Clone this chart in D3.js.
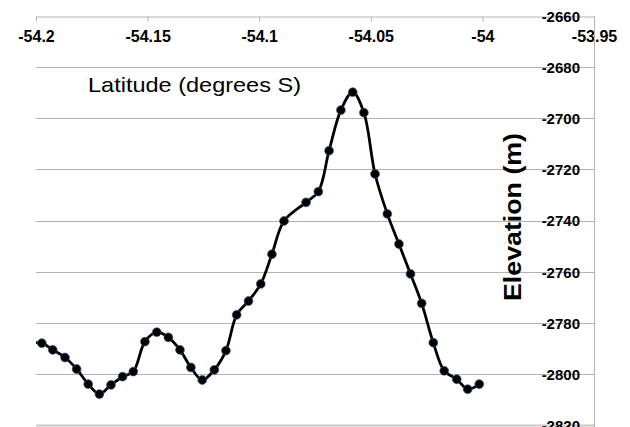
<!DOCTYPE html>
<html>
<head>
<meta charset="utf-8">
<script src="https://cdn.jsdelivr.net/npm/d3@7"></script>
<style>
  html, body { margin: 0; padding: 0; background: #fff; }
  svg { display: block; font-family: "Liberation Sans", Arial, sans-serif; }
</style>
</head>
<body>
<svg id="chart" width="630" height="427"></svg>
<script>
// Data
const latitude = [
  -54.2027, -54.1974, -54.1925, -54.1870, -54.1818, -54.1766, -54.1716, -54.1664,
  -54.1612, -54.1564, -54.1512, -54.1459, -54.1407, -54.1355, -54.1306, -54.1255,
  -54.1201, -54.1149, -54.1101, -54.1048, -54.0993, -54.0943, -54.0889, -54.0790,
  -54.0735, -54.0687, -54.0634, -54.0581, -54.0531, -54.0481, -54.0426, -54.0374,
  -54.0322, -54.0272, -54.0220, -54.0171, -54.0115, -54.0066, -54.0014
];
const elevation = [
  -2788.0, -2788.0, -2790.6, -2793.6, -2798.1, -2804.0, -2807.9, -2804.3,
  -2801.1, -2799.1, -2787.4, -2783.7, -2785.7, -2790.6, -2797.5, -2802.4,
  -2798.4, -2790.9, -2776.9, -2771.5, -2764.8, -2753.2, -2740.2, -2732.9,
  -2728.7, -2712.7, -2696.8, -2689.8, -2697.8, -2721.8, -2737.4, -2749.2,
  -2760.9, -2772.4, -2787.8, -2798.8, -2802.1, -2806.0, -2804.0
];
const xTicks = [-54.2, -54.15, -54.1, -54.05, -54, -53.95];
const yTicks = [-2660, -2680, -2700, -2720, -2740, -2760, -2780, -2800, -2820];
const xTitle = "Latitude (degrees S)";
const yTitle = "Elevation (m)";

const data = latitude.map((v, i) => ({ x: v, y: elevation[i] }));

const svg = d3.select("#chart");
const pLeft = 36, pRight = 594, pTop = 16, pBottom = 425;

const x = d3.scaleLinear().domain([-54.2, -53.95]).range([pLeft, pRight]);
const y = d3.scaleLinear().domain([-2660, -2820]).range([pTop, pBottom]);

svg.append("defs").append("clipPath").attr("id", "plot")
  .append("rect").attr("x", pLeft).attr("y", pTop).attr("width", pRight - pLeft).attr("height", 427 - pTop);

// gridlines
svg.append("g").selectAll("line").data(yTicks.filter(d => d !== -2660)).join("line")
  .attr("x1", pLeft).attr("x2", pRight)
  .attr("y1", d => Math.round(y(d)) + 0.5).attr("y2", d => Math.round(y(d)) + 0.5)
  .attr("stroke", d => d === -2820 ? "#c8c8c8" : "#b3b3b3")
  .attr("stroke-width", d => d === -2820 ? 2 : 1);

// top axis
const xAxis = d3.axisBottom(x).tickValues(xTicks).tickSize(5).tickSizeOuter(0)
  .tickFormat(d => String(d));
const gx = svg.append("g").attr("transform", `translate(0,${pTop + 0.5})`).call(xAxis);
gx.select(".domain").attr("stroke", "#b3b3b3");
gx.selectAll(".tick line").attr("stroke", "#b3b3b3");
gx.selectAll(".tick text")
  .attr("y", 25).attr("dy", 0)
  .attr("fill", "#000").attr("font-size", 16).attr("font-weight", "bold")
  .attr("font-family", "Liberation Sans, Arial, sans-serif");

// right axis line
svg.append("line").attr("x1", pRight + 0.5).attr("x2", pRight + 0.5)
  .attr("y1", pTop).attr("y2", 427).attr("stroke", "#b3b3b3");

// y labels
const yAxis = d3.axisLeft(y).tickValues(yTicks).tickSize(0).tickFormat(d => String(d));
const gy = svg.append("g").attr("transform", `translate(${pRight},0)`).call(yAxis);
gy.select(".domain").remove();
gy.selectAll(".tick text")
  .attr("x", -14).attr("dy", "0.36em")
  .attr("fill", "#000").attr("font-size", 15).attr("font-weight", "bold")
  .attr("font-family", "Liberation Sans, Arial, sans-serif");

// titles
svg.append("text").attr("x", 88).attr("y", 92)
  .attr("font-size", 21).attr("textLength", 213).attr("lengthAdjust", "spacingAndGlyphs")
  .attr("fill", "#000").text(xTitle);
svg.append("text").attr("transform", "translate(521,217) rotate(-90)")
  .attr("text-anchor", "middle").attr("font-size", 24).attr("font-weight", "bold")
  .attr("textLength", 168).attr("lengthAdjust", "spacingAndGlyphs")
  .attr("fill", "#000").text(yTitle);

// series
const g = svg.append("g").attr("clip-path", "url(#plot)");
const line = d3.line().x(d => x(d.x)).y(d => y(d.y)).curve(d3.curveCatmullRom.alpha(0.5));
g.append("path").datum(data).attr("d", line)
  .attr("fill", "none").attr("stroke", "#000").attr("stroke-width", 2.8)
  .attr("stroke-linejoin", "round");
g.selectAll("circle").data(data).join("circle")
  .attr("cx", d => x(d.x)).attr("cy", d => y(d.y)).attr("r", 4.4)
  .attr("fill", "#000").attr("stroke", "#34557f").attr("stroke-width", 0.7);
</script>
</body>
</html>
